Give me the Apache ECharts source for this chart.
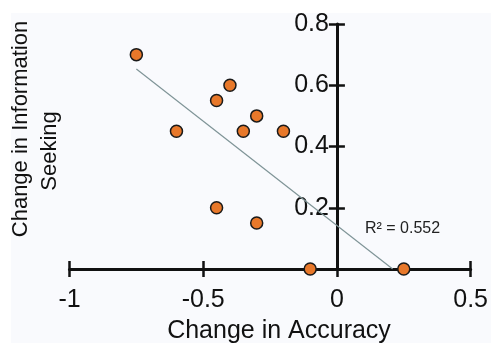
<!DOCTYPE html>
<html>
<head>
<meta charset="utf-8">
<script src="https://cdn.jsdelivr.net/npm/echarts@6/dist/echarts.min.js"></script>
<style>
  html, body { margin: 0; padding: 0; background: #ffffff; }
  #chart { width: 491px; height: 343px; }
</style>
</head>
<body>
<div id="chart"></div>
<script>
// Change in accuracy (x) vs change in information seeking (y), one point per participant group
var accuracyChange = [-0.75, -0.40, -0.45, -0.60, -0.35, -0.30, -0.20, -0.45, -0.30, -0.10, 0.25];
var seekingChange  = [ 0.70,  0.60,  0.55,  0.45,  0.45,  0.50,  0.45,  0.20,  0.15,  0.00, 0.00];

// Axis ticks
var xTicks = [-1, -0.5, 0, 0.5];
var yTicks = [0, 0.2, 0.4, 0.6, 0.8];

var xTitle = 'Change in Accuracy';
var yTitleLines = ['Change in Information', 'Seeking'];
var fitLabel = 'R\u00B2 = 0.552';

// Least-squares fit through the points, drawn from the leftmost point to where it meets y = 0
function linearFit(xs, ys) {
  var n = xs.length, mx = 0, my = 0;
  for (var i = 0; i < n; i++) { mx += xs[i]; my += ys[i]; }
  mx /= n; my /= n;
  var sxy = 0, sxx = 0;
  for (var j = 0; j < n; j++) {
    sxy += (xs[j] - mx) * (ys[j] - my);
    sxx += (xs[j] - mx) * (xs[j] - mx);
  }
  var slope = sxy / sxx;
  return { slope: slope, intercept: my - slope * mx };
}
var fit = linearFit(accuracyChange, seekingChange);
var fitStart = Math.min.apply(null, accuracyChange);
var fitEnd = -fit.intercept / fit.slope;
var fitLine = [
  [fitStart, fit.intercept + fit.slope * fitStart],
  [fitEnd, 0]
];

var points = accuracyChange.map(function (x, i) { return [x, seekingChange[i]]; });

var FONT = '"Liberation Sans", Arial, Helvetica, sans-serif';
var INK = '#111111';
var xMin = xTicks[0], xMax = xTicks[xTicks.length - 1];
var yMin = yTicks[0], yMax = yTicks[yTicks.length - 1];
var xStep = xTicks[1] - xTicks[0], yStep = yTicks[1] - yTicks[0];

var chart = echarts.init(document.getElementById('chart'), null, { renderer: 'canvas' });

chart.setOption({
  animation: false,
  backgroundColor: '#ffffff',
  grid: { left: 69.5, right: 19, top: 24, bottom: 74, containLabel: false },
  xAxis: [
    {
      type: 'value', min: xMin, max: xMax, interval: xStep,
      splitLine: { show: false },
      axisLine: { show: true, onZero: true, lineStyle: { color: INK, width: 3 } },
      axisTick: { show: true, inside: false, length: 8, lineStyle: { color: INK, width: 2.5 } },
      axisLabel: {
        show: true, margin: 19, color: INK, fontFamily: FONT, fontSize: 25,
        formatter: function (v) { return String(v); }
      }
    },
    {
      // second copy of the x axis that only draws the inner half of each tick
      type: 'value', position: 'bottom', min: xMin, max: xMax, interval: xStep,
      splitLine: { show: false },
      axisLine: { show: false, onZero: true },
      axisTick: { show: true, inside: true, length: 8, lineStyle: { color: INK, width: 2.5 } },
      axisLabel: { show: false }
    }
  ],
  yAxis: [
    {
      type: 'value', position: 'left', offset: 0, min: yMin, max: yMax, interval: yStep,
      splitLine: { show: false },
      axisLine: { show: true, onZero: false, lineStyle: { color: INK, width: 3 } },
      axisTick: { show: true, inside: false, length: 8, lineStyle: { color: INK, width: 2.5 } },
      axisLabel: {
        show: true, margin: 8, color: INK, fontFamily: FONT, fontSize: 25,
        formatter: function (v) { return v === 0 ? '' : v.toFixed(1); }
      }
    },
    {
      // inner half of the y ticks
      type: 'value', position: 'left', offset: 0, min: yMin, max: yMax, interval: yStep,
      splitLine: { show: false },
      axisLine: { show: false, onZero: false },
      axisTick: { show: true, inside: true, length: 8, lineStyle: { color: INK, width: 2.5 } },
      axisLabel: { show: false }
    }
  ],
  series: [
    {
      type: 'line',
      name: 'fit',
      data: fitLine,
      showSymbol: false,
      symbol: 'none',
      silent: true,
      lineStyle: { color: '#7f9497', width: 1.2 },
      z: 3
    },
    {
      type: 'scatter',
      name: 'groups',
      data: points,
      symbol: 'circle',
      symbolSize: 12,
      itemStyle: { color: '#e8782a', borderColor: '#1a1a1a', borderWidth: 1.5, opacity: 1 },
      z: 5
    }
  ],
  graphic: [
    {
      type: 'rect', z: -10, silent: true,
      shape: { x: 11, y: 13, width: 480, height: 330 },
      style: { fill: '#f9fafd' }
    },
    {
      type: 'text', silent: true,
      style: {
        x: 279, y: 331, text: xTitle, fill: INK,
        font: '25px ' + FONT, textAlign: 'center', textVerticalAlign: 'middle'
      }
    },
    {
      type: 'text', silent: true, rotation: Math.PI / 2, x: 21, y: 129,
      style: {
        x: 0, y: 0, text: yTitleLines[0], fill: INK,
        font: '22px ' + FONT, textAlign: 'center', textVerticalAlign: 'middle'
      }
    },
    {
      type: 'text', silent: true, rotation: Math.PI / 2, x: 50, y: 151,
      style: {
        x: 0, y: 0, text: yTitleLines[1], fill: INK,
        font: '22px ' + FONT, textAlign: 'center', textVerticalAlign: 'middle'
      }
    },
    {
      type: 'text', silent: true,
      style: {
        x: 365, y: 229, text: fitLabel, fill: '#222222',
        font: '16px ' + FONT, textAlign: 'left', textVerticalAlign: 'middle'
      }
    }
  ]
});

// The y axis crosses the x axis at x = 0: shift both y-axis layers there,
// so its labels and ticks move together with its line.
var zeroPx = chart.convertToPixel({ xAxisIndex: 0 }, 0);
var leftPx = chart.convertToPixel({ xAxisIndex: 0 }, xMin);
var yShift = -(zeroPx - leftPx);
chart.setOption({ yAxis: [{ offset: yShift }, { offset: yShift }] });
</script>
</body>
</html>
